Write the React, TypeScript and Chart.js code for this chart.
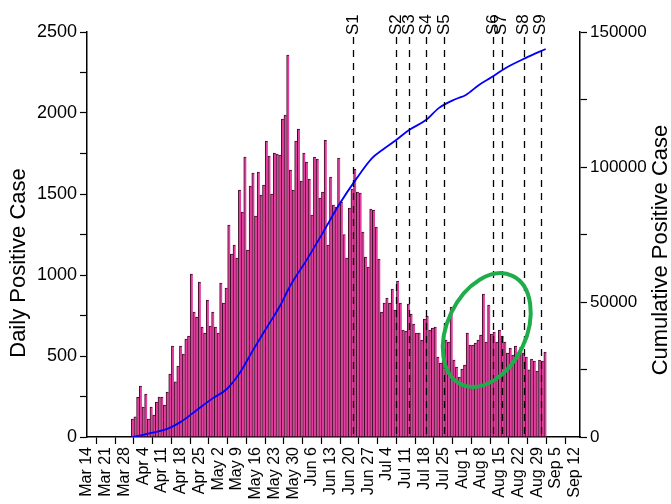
import React, { useEffect, useRef } from "react";
import { Chart, registerables } from "chart.js";
Chart.register(...registerables);

// Weekly tick labels, starting Mar 14 (day 0)
const tickLabels = ["Mar 14","Mar 21","Mar 28","Apr 4","Apr 11","Apr 18","Apr 25","May 2","May 9","May 16","May 23","May 30","Jun 6","Jun 13","Jun 20","Jun 27","Jul 4","Jul 11","Jul 18","Jul 25","Aug 1","Aug 8","Aug 15","Aug 22","Aug 29","Sep 5","Sep 12"];

// First bar is Mar 31 (day 17 after Mar 14)
const firstBarDay = 17;

// Daily positive cases (Mar 31 .. Sep 1)
const daily = [
  111, 125, 245, 314, 185, 265, 111, 185, 136, 216,
  247, 247, 197, 278, 389, 561, 340, 438, 562, 512,
  605, 623, 1006, 771, 740, 956, 679, 642, 845, 685,
  771, 679, 642, 950, 827, 919, 1308, 1129, 1185, 1104,
  1524, 1388, 1728, 1154, 1549, 1629, 1364, 1635, 1493, 1555,
  1826, 1734, 1499, 1752, 1746,
  1740, 1962, 1987, 2357, 1647, 1524, 1826, 1900, 1580, 1752,
  1697, 1592, 1370, 1728, 1715, 1475, 1512, 1832, 1185, 1604,
  1432, 1419, 1721, 1450, 1250, 1104,
  1413, 1530, 1653, 1512, 1505, 1265, 1111, 1049, 1407, 1401,
  1296, 1098, 771, 827, 858, 827, 913, 784, 963,
  827, 660, 654, 821, 759, 697, 642, 642, 599, 728,
  747, 660, 672, 679, 494, 457, 475, 599, 586, 802,
  475, 432, 370, 420, 444, 642, 568, 568, 580, 599,
  629, 882, 586, 814, 636, 648, 586, 660, 623, 586,
  518, 549, 506, 561, 518, 555, 518, 494, 414, 481,
  469, 407, 475, 469, 524
];

// Cumulative positive cases, day index since Mar 14
const cumDays = [17, 25, 30, 35, 41, 47, 52, 57, 62, 67, 72, 76, 82, 88, 94, 100.5, 106.4, 110.2, 115.4, 120.2, 126.5, 131.4, 137.7, 141.4, 146.3, 151.1, 156.3, 163.8, 171.2];
const cumValues = [0, 1700, 3000, 5600, 10000, 14400, 17600, 23700, 32200, 40400, 48500, 56300, 65600, 75600, 85900, 95600, 103300, 106300, 110000, 113700, 117400, 121900, 125200, 126700, 130400, 133300, 136700, 140400, 143700];

// Event markers
const eventLabels = ["S1","S2","S3","S4","S5","S6","S7","S8","S9"];
const eventDays = [99.4, 115.4, 120.2, 126.5, 133.2, 151.5, 154.8, 163.0, 169.3];

// Highlighted region (centre in data coordinates)
const highlightDay = 149.2;
const highlightValue = 660;

const FONT = '"Liberation Sans", Arial, Helvetica, sans-serif';

const overlayPlugin = {
  id: "overlay",
  afterDatasetsDraw(chart: any) {
    const { ctx, chartArea } = chart;
    const x = chart.scales.x;
    const y = chart.scales.y;
    ctx.save();
    // dashed event lines
    ctx.strokeStyle = "#000";
    ctx.lineWidth = 1.3;
    ctx.setLineDash([7, 6]);
    eventDays.forEach((d) => {
      const px = Math.round(x.getPixelForValue(d)) + 0.5;
      ctx.beginPath();
      ctx.moveTo(px, chartArea.top + 5);
      ctx.lineTo(px, chartArea.bottom);
      ctx.stroke();
    });
    ctx.setLineDash([]);
    // event labels
    ctx.fillStyle = "#000";
    ctx.font = `17px ${FONT}`;
    ctx.textAlign = "left";
    ctx.textBaseline = "middle";
    eventDays.forEach((d, k) => {
      const px = x.getPixelForValue(d);
      ctx.save();
      ctx.translate(px, chartArea.top + 3);
      ctx.rotate(-Math.PI / 2);
      ctx.fillText(eventLabels[k], 0, 0);
      ctx.restore();
    });
    // green ellipse
    const cx = x.getPixelForValue(highlightDay);
    const cy = y.getPixelForValue(highlightValue);
    ctx.strokeStyle = "#1fad4b";
    ctx.lineWidth = 4;
    ctx.beginPath();
    ctx.ellipse(cx, cy, 60, 39.5, (-64.7 * Math.PI) / 180, 0, Math.PI * 2);
    ctx.stroke();
    ctx.restore();
  },
  afterDraw(chart: any) {
    const { ctx } = chart;
    ctx.save();
    ctx.fillStyle = "#000";
    ctx.font = `22px ${FONT}`;
    ctx.textAlign = "center";
    ctx.textBaseline = "middle";
    ctx.save();
    ctx.translate(19, 263);
    ctx.rotate(-Math.PI / 2);
    ctx.fillText("Daily Positive Case", 0, 0);
    ctx.restore();
    ctx.save();
    ctx.translate(661, 250);
    ctx.rotate(-Math.PI / 2);
    ctx.fillText("Cumulative Positive Case", 0, 0);
    ctx.restore();
    ctx.restore();
  },
};

export default function App() {
  const ref = useRef<HTMLCanvasElement | null>(null);
  useEffect(() => {
    if (!ref.current) return;
    const barData = daily.map((v, i) => ({ x: firstBarDay + i, y: v }));
    const cumData = cumDays.map((d, i) => ({ x: d, y: cumValues[i] }));
    const gridOpts = { drawOnChartArea: false, drawTicks: true, tickLength: 7, tickColor: "#000", tickWidth: 1.2 };
    const borderOpts = { display: true, color: "#000", width: 1.5 };
    const chart = new Chart(ref.current, {
      type: "bar",
      data: {
        datasets: [
          {
            type: "line",
            data: cumData,
            yAxisID: "y1",
            borderColor: "#0000ff",
            borderWidth: 1.8,
            pointRadius: 0,
            cubicInterpolationMode: "monotone",
            fill: false,
          } as any,
          {
            type: "bar",
            data: barData,
            yAxisID: "y",
            backgroundColor: "#e33f9f",
            borderColor: "#3d0c27",
            borderWidth: { top: 1, left: 1, right: 0, bottom: 0 },
            borderSkipped: false,
            barPercentage: 1,
            categoryPercentage: 1,
          } as any,
        ],
      },
      options: {
        animation: false,
        responsive: false,
        maintainAspectRatio: false,
        layout: { padding: { top: 32, left: 0, right: 0, bottom: 0 } },
        plugins: { legend: { display: false }, tooltip: { enabled: false } },
        scales: {
          x: {
            type: "linear",
            min: 0,
            max: 184,
            offset: false,
            afterBuildTicks: (scale: any) => {
              scale.ticks = tickLabels.map((_, k) => ({ value: k * 7 }));
            },
            afterFit: (scale: any) => {
              scale.height = 67;
            },
            ticks: {
              autoSkip: false,
              maxRotation: 90,
              minRotation: 90,
              padding: 3,
              color: "#000",
              font: { family: FONT, size: 16 },
              callback: (v: any) => tickLabels[Math.round(Number(v) / 7)] ?? "",
            },
            grid: gridOpts,
            border: borderOpts,
          },
          y: {
            type: "linear",
            position: "left",
            min: 0,
            max: 2500,
            afterFit: (scale: any) => {
              scale.width = 87;
            },
            ticks: {
              stepSize: 250,
              padding: 3,
              color: "#000",
              font: { family: FONT, size: 18 },
              callback: (v: any) => (Number(v) % 500 === 0 ? String(v) : ""),
            },
            grid: gridOpts,
            border: borderOpts,
          },
          y1: {
            type: "linear",
            position: "right",
            min: 0,
            max: 150000,
            afterFit: (scale: any) => {
              scale.width = 91;
            },
            ticks: {
              stepSize: 25000,
              padding: 3,
              color: "#000",
              font: { family: FONT, size: 17 },
              callback: (v: any) => (Number(v) % 50000 === 0 ? String(v) : ""),
            },
            grid: gridOpts,
            border: borderOpts,
          },
        },
      },
      plugins: [overlayPlugin],
    });
    return () => chart.destroy();
  }, []);
  return (
    <div style={{ position: "absolute", left: 0, top: 0, width: 671, height: 504, background: "#fff" }}>
      <canvas ref={ref} width={671} height={504} style={{ display: "block" }} />
    </div>
  );
}
